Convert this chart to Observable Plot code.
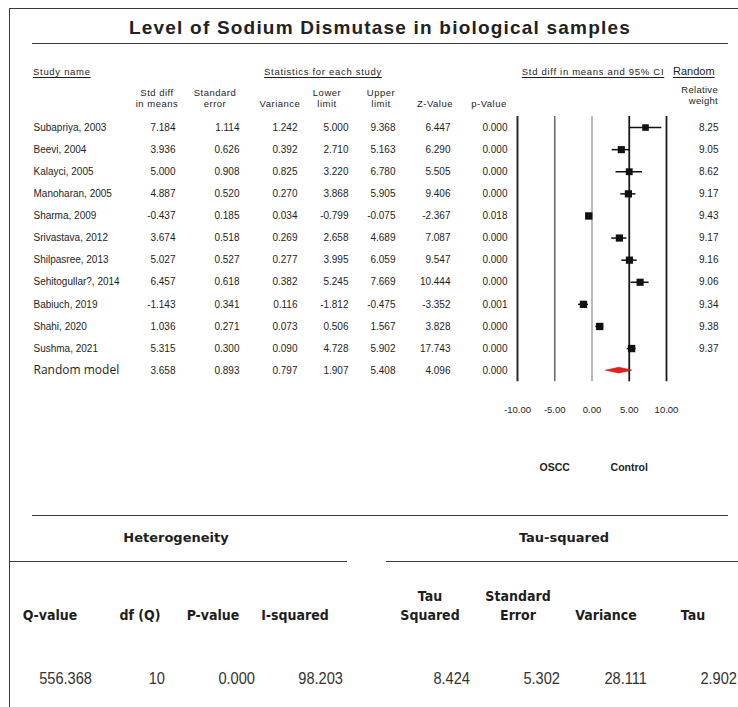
<!DOCTYPE html>
<html><head><meta charset="utf-8">
<script src="https://cdn.jsdelivr.net/npm/d3@7"></script>
<script src="https://cdn.jsdelivr.net/npm/@observablehq/plot@0.6"></script>
<style>
html,body{margin:0;padding:0;background:#fff;overflow:hidden}
#wrap{position:relative;width:738px;height:707px;background:#fff;font-family:"Liberation Sans",Arial,sans-serif;color:#1e1e1e;overflow:hidden}
#wrap svg{position:absolute;left:0;top:0}
.t{position:absolute;white-space:nowrap;line-height:1.2}
.hl{position:absolute;height:0;border-top:1.6px solid #3a3a3a}
.vl{position:absolute;width:0;border-left:1.6px solid #3a3a3a}
</style></head><body><div id="wrap"></div>
<script>
// ---- data ----
const studies = ["Subapriya, 2003","Beevi, 2004","Kalayci, 2005","Manoharan, 2005","Sharma, 2009","Srivastava, 2012","Shilpasree, 2013","Sehitogullar?, 2014","Babiuch, 2019","Shahi, 2020","Sushma, 2021"];
const smd      = [7.184, 3.936, 5.000, 4.887, -0.437, 3.674, 5.027, 6.457, -1.143, 1.036, 5.315];
const stdErr   = [1.114, 0.626, 0.908, 0.520, 0.185, 0.518, 0.527, 0.618, 0.341, 0.271, 0.300];
const variance = [1.242, 0.392, 0.825, 0.270, 0.034, 0.269, 0.277, 0.382, 0.116, 0.073, 0.090];
const lower    = [5.000, 2.710, 3.220, 3.868, -0.799, 2.658, 3.995, 5.245, -1.812, 0.506, 4.728];
const upper    = [9.368, 5.163, 6.780, 5.905, -0.075, 4.689, 6.059, 7.669, -0.475, 1.567, 5.902];
const zValue   = [6.447, 6.290, 5.505, 9.406, -2.367, 7.087, 9.547, 10.444, -3.352, 3.828, 17.743];
const pValue   = [0.000, 0.000, 0.000, 0.000, 0.018, 0.000, 0.000, 0.000, 0.001, 0.000, 0.000];
const weight   = [8.25, 9.05, 8.62, 9.17, 9.43, 9.17, 9.16, 9.06, 9.34, 9.38, 9.37];

const pooledName = "Random model";
const pooled = [3.658, 0.893, 0.797, 1.907, 5.408, 4.096, 0.000]; // smd, se, var, lower, upper, z, p

const axisTicks = [-10, -5, 0, 5, 10];
const sideLabels = ["OSCC", "Control"];
const sideAt = [-5, 5];

const hetHeaders = ["Q-value", "df (Q)", "P-value", "I-squared"];
const hetValues  = ["556.368", "10", "0.000", "98.203"];
const tauHeaders = [["Tau", "Squared"], ["Standard", "Error"], ["Variance"], ["Tau"]];
const tauValues  = ["8.424", "5.302", "28.111", "2.902"];

// ---- table rows ----
const rows = studies.map((name, i) => ({
  i, name, smd: smd[i], se: stdErr[i], v: variance[i], lo: lower[i], hi: upper[i],
  z: zValue[i], p: pValue[i], w: weight[i]
}));
const pooledRow = {i: studies.length, name: pooledName, smd: pooled[0], se: pooled[1], v: pooled[2],
  lo: pooled[3], hi: pooled[4], z: pooled[5], p: pooled[6]};
const allRows = [...rows, pooledRow];
const diamondH = 0.13;
const diamond = [
  {x: pooledRow.lo, y1: pooledRow.i, y2: pooledRow.i},
  {x: pooledRow.smd, y1: pooledRow.i - diamondH, y2: pooledRow.i + diamondH},
  {x: pooledRow.hi, y1: pooledRow.i, y2: pooledRow.i}
];

const W = 738, H = 490, ML = 517, MR = 72, MT = 116, MB = 108.8;
const f3 = v => v.toFixed(3);
const cols = [
  {get: d => f3(d.smd), right: 175},
  {get: d => f3(d.se), right: 239},
  {get: d => f3(d.v), right: 297},
  {get: d => f3(d.lo), right: 348},
  {get: d => f3(d.hi), right: 395},
  {get: d => f3(d.z), right: 450},
  {get: d => f3(d.p), right: 507}
];

const chart = Plot.plot({
  width: W, height: H,
  marginLeft: ML, marginRight: MR, marginTop: MT, marginBottom: MB,
  style: {fontFamily: "'Liberation Sans', Arial, sans-serif", color: "#1e1e1e", background: "transparent"},
  x: {domain: [-10, 10]},
  y: {domain: [-0.5, studies.length + 0.5], reverse: true, axis: null},
  r: {type: "linear", domain: [8.2, 9.5], range: [3.7, 4.2]},
  marks: [
    Plot.ruleX([axisTicks[0]], {stroke: "#2a2a2a", strokeWidth: 2}),
    Plot.ruleX([axisTicks[1]], {stroke: "#6e6e6e", strokeWidth: 1.6}),
    Plot.ruleX([axisTicks[2]], {stroke: "#8a8a8a", strokeWidth: 1.2}),
    Plot.ruleX(axisTicks.slice(3), {stroke: "#1a1a1a", strokeWidth: 1.8}),
    Plot.ruleY(rows, {y: "i", x1: "lo", x2: "hi", stroke: "#111", strokeWidth: 1.5}),
    Plot.dot(rows, {x: "smd", y: "i", r: "w", symbol: "square", fill: "#111", stroke: "none"}),
    Plot.areaY(diamond, {x: "x", y1: "y1", y2: "y2", fill: "#e3221c", stroke: "#c0100c", strokeWidth: 0.6}),
    Plot.axisX({ticks: axisTicks, tickFormat: d => d.toFixed(2), tickSize: 0, tickPadding: 25, fontSize: 9.5, label: null}),
    Plot.text(sideLabels, {x: (d, k) => sideAt[k], text: d => d, frameAnchor: "bottom", dy: 89, fontWeight: "bold", fontSize: 10.5}),
    Plot.text(rows, {y: "i", text: "name", frameAnchor: "left", dx: 33 - ML, textAnchor: "start", fontSize: 10}),
    Plot.text([pooledRow], {y: "i", text: "name", frameAnchor: "left", dx: 33 - ML, textAnchor: "start", fontSize: 12, fontFamily: "'Open Sans', sans-serif"}),
    ...cols.map(c => Plot.text(allRows, {y: "i", text: c.get, frameAnchor: "left", dx: c.right - ML, textAnchor: "end", fontSize: 10})),
    Plot.text(rows, {y: "i", text: d => d.w.toFixed(2), frameAnchor: "left", dx: 718 - ML, textAnchor: "end", fontSize: 10})
  ]
});

const wrap = document.getElementById("wrap");
wrap.appendChild(chart);

function lab(txt, x, base, o = {}) {
  const size = o.size || 9.5;
  const d = document.createElement("div");
  d.className = "t";
  d.textContent = txt;
  d.style.left = x + "px";
  d.style.top = (base - 1.0 * size) + "px";
  d.style.fontSize = size + "px";
  if (o.weight) d.style.fontWeight = o.weight;
  if (o.family) d.style.fontFamily = o.family;
  if (o.ls != null) d.style.letterSpacing = o.ls + "px";
  if (o.color) d.style.color = o.color;
  if (o.ul) { d.style.textDecoration = "underline"; d.style.textUnderlineOffset = "2px"; d.style.textDecorationThickness = "1px"; }
  const a = o.anchor || "start";
  const tx = a === "middle" ? "translateX(-50%)" : a === "end" ? "translateX(-100%)" : "";
  const sx = o.sx ? ` scaleX(${o.sx})` : "";
  d.style.transform = tx + sx;
  d.style.transformOrigin = a === "end" ? "right center" : a === "middle" ? "center center" : "left center";
  wrap.appendChild(d);
}
function hline(x1, x2, y) {
  const d = document.createElement("div"); d.className = "hl";
  d.style.left = x1 + "px"; d.style.width = (x2 - x1) + "px"; d.style.top = y + "px";
  wrap.appendChild(d);
}
function vline(x, y1, y2) {
  const d = document.createElement("div"); d.className = "vl";
  d.style.left = x + "px"; d.style.top = y1 + "px"; d.style.height = (y2 - y1) + "px";
  wrap.appendChild(d);
}

// frame
hline(9, 738, 8);
vline(9, 8, 707);

// title
lab("Level of Sodium Dismutase in biological samples", 380, 36, {size: 19, weight: "bold", anchor: "middle", ls: 1.2, color: "#222"});
hline(32, 728, 43);

// group headers
const small = {size: 9.5, ls: 0.7};
lab("Study name", 33, 75, {...small, ul: true});
lab("Statistics for each study", 323, 75, {...small, ul: true, anchor: "middle"});
lab("Std diff in means and 95% CI", 593, 75, {...small, ul: true, anchor: "middle"});
lab("Random", 673, 76, {size: 11, ul: true});

// column headers
const colHeads = [
  [["Std diff", "in means"], 157],
  [["Standard", "error"], 215],
  [["Variance"], 280],
  [["Lower", "limit"], 327],
  [["Upper", "limit"], 381],
  [["Z-Value"], 435],
  [["p-Value"], 489]
];
const hd = {size: 9.5, ls: 0.5, anchor: "middle"};
colHeads.forEach(([lines, cx]) => {
  if (lines.length === 2) {
    lab(lines[0], cx, 96, hd);
    lab(lines[1], cx, 107, hd);
  } else {
    lab(lines[0], cx, 107, hd);
  }
});
lab("Relative", 718, 93, {size: 9.5, ls: 0.3, anchor: "end"});
lab("weight", 718, 104, {size: 9.5, ls: 0.3, anchor: "end"});

// bottom section
hline(32, 728, 515);
const bh = {size: 13, weight: "bold", family: "'DejaVu Sans', sans-serif", anchor: "middle"};
lab("Heterogeneity", 176, 543, bh);
lab("Tau-squared", 564, 543, bh);
hline(9, 347, 561);
hline(386, 738, 561);

const th = {size: 14, weight: "bold", family: "'DejaVu Sans Condensed', 'DejaVu Sans', sans-serif", anchor: "middle"};
const tv = {size: 17, family: "'Liberation Sans', Arial, sans-serif", anchor: "end", color: "#333", sx: 0.86};
const hetCx = [50, 140, 213, 295];
const hetRight = [92, 165, 255, 343];
hetHeaders.forEach((h, k) => lab(h, hetCx[k], 621, th));
hetValues.forEach((v, k) => lab(v, hetRight[k], 686, tv));

const tauCx = [430, 518, 606, 693];
const tauRight = [470, 560, 647, 737];
tauHeaders.forEach((lines, k) => {
  if (lines.length === 2) {
    lab(lines[0], tauCx[k], 602, th);
    lab(lines[1], tauCx[k], 621, th);
  } else {
    lab(lines[0], tauCx[k], 621, th);
  }
});
tauValues.forEach((v, k) => lab(v, tauRight[k], 686, tv));
</script></body></html>
